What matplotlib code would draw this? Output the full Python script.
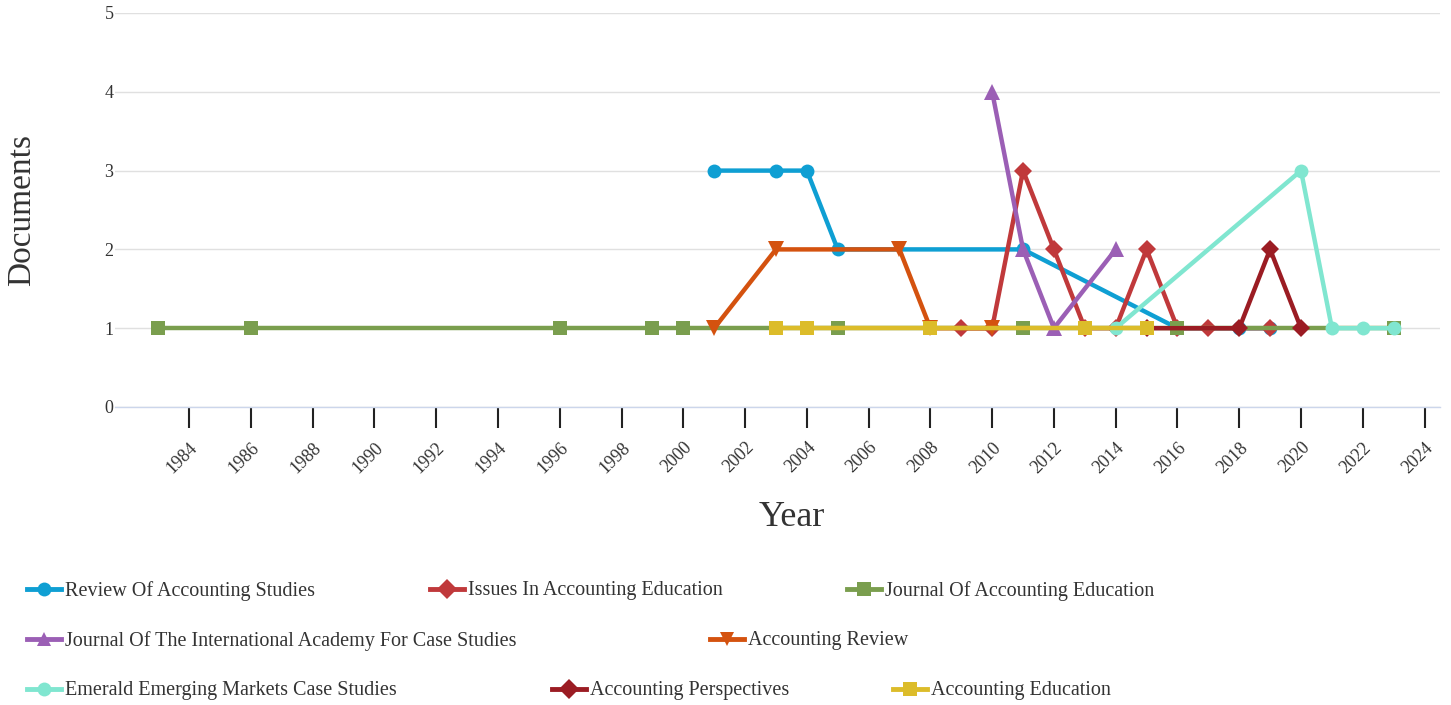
import matplotlib.pyplot as plt
from matplotlib.lines import Line2D

# series, in legend order (later ones drawn on top)
names = [
    "Review Of Accounting Studies",
    "Issues In Accounting Education",
    "Journal Of Accounting Education",
    "Journal Of The International Academy For Case Studies",
    "Accounting Review",
    "Emerald Emerging Markets Case Studies",
    "Accounting Perspectives",
    "Accounting Education",
]
colors = ["#0f9fd3", "#c0393b", "#7a9e4e", "#9b5fb5", "#d4520f", "#80e6d0", "#9b1c23", "#dcbc2a"]
markers = ["o", "D", "s", "^", "v", "o", "D", "s"]

ras_years = [2001, 2003, 2004, 2005, 2011, 2016, 2018, 2019]
ras_docs = [3, 3, 3, 2, 2, 1, 1, 1]
iae_years = [2009, 2010, 2011, 2012, 2013, 2014, 2015, 2016, 2017, 2019]
iae_docs = [1, 1, 3, 2, 1, 1, 2, 1, 1, 1]
jae_years = [1983, 1986, 1996, 1999, 2000, 2005, 2011, 2016, 2023]
jae_docs = [1, 1, 1, 1, 1, 1, 1, 1, 1]
jia_years = [2010, 2011, 2012, 2014]
jia_docs = [4, 2, 1, 2]
ar_years = [2001, 2003, 2007, 2008, 2010]
ar_docs = [1, 2, 2, 1, 1]
eem_years = [2014, 2020, 2021, 2022, 2023]
eem_docs = [1, 3, 1, 1, 1]
ap_years = [2015, 2018, 2019, 2020]
ap_docs = [1, 1, 2, 1]
ae_years = [2003, 2004, 2008, 2013, 2015]
ae_docs = [1, 1, 1, 1, 1]

years = [ras_years, iae_years, jae_years, jia_years, ar_years, eem_years, ap_years, ae_years]
docs = [ras_docs, iae_docs, jae_docs, jia_docs, ar_docs, eem_docs, ap_docs, ae_docs]

xticks = list(range(1984, 2025, 2))

plt.rcParams['font.family'] = ['Liberation Serif', 'DejaVu Serif']

fig = plt.figure(figsize=(14.51, 7.05), dpi=100)
ax = fig.add_axes([115 / 1451, 1 - 407 / 705, 1325 / 1451, 394 / 705])

for i in range(len(names)):
    ms = 10 if markers[i] in ("o", "s") else 9
    if markers[i] in ("^", "v"):
        ms = 11
    ax.plot(years[i], docs[i], color=colors[i], marker=markers[i], lw=3.2,
            markersize=ms, markeredgewidth=0, zorder=3 + i, clip_on=False)

ax.set_xlim(1981.6, 2024.5)
ax.set_ylim(0, 5)
ax.set_yticks(range(6))
ax.set_xticks(xticks)
ax.set_xticklabels([str(y) for y in xticks], rotation=45, ha='right',
                   rotation_mode='anchor', fontsize=13, color='#333333')
ax.tick_params(axis='x', length=15, width=1.5, color='#222222', pad=8)
ax.tick_params(axis='y', length=0, labelsize=13, labelcolor='#333333', pad=1)
ax.grid(axis='y', color='#e0e0e0', lw=1)
ax.set_axisbelow(True)
for s in ['top', 'right', 'left']:
    ax.spines[s].set_visible(False)
ax.spines['bottom'].set_color('#ccd6eb')
ax.spines['bottom'].set_linewidth(1)

fig.text(22 / 1451, 1 - 210 / 705, "Documents", rotation=90, ha='center', va='center',
         fontsize=24, color='#333333')
fig.text(792 / 1451, 1 - 517 / 705, "Year", ha='center', va='center',
         fontsize=26, color='#333333')

# legend laid out like the original flowing rows
leg_pos = [(65, 589), (468, 589), (885, 589),
           (65, 639), (748, 639),
           (65, 689), (590, 689), (931, 689)]
for i, (tx, ty) in enumerate(leg_pos):
    yf = 1 - ty / 705
    x0 = (tx - 38) / 1451
    x1 = (tx - 4) / 1451
    fig.add_artist(Line2D([x0, x1], [yf, yf], color=colors[i], lw=3.5,
                          transform=fig.transFigure))
    fig.add_artist(Line2D([(x0 + x1) / 2], [yf], color=colors[i], marker=markers[i],
                          markersize=10, markeredgewidth=0, transform=fig.transFigure))
    fig.text(tx / 1451, yf - 2 / 705, names[i], ha='left', va='center', fontsize=14.5,
             color='#333333')

fig.savefig("out.png", dpi=100)
